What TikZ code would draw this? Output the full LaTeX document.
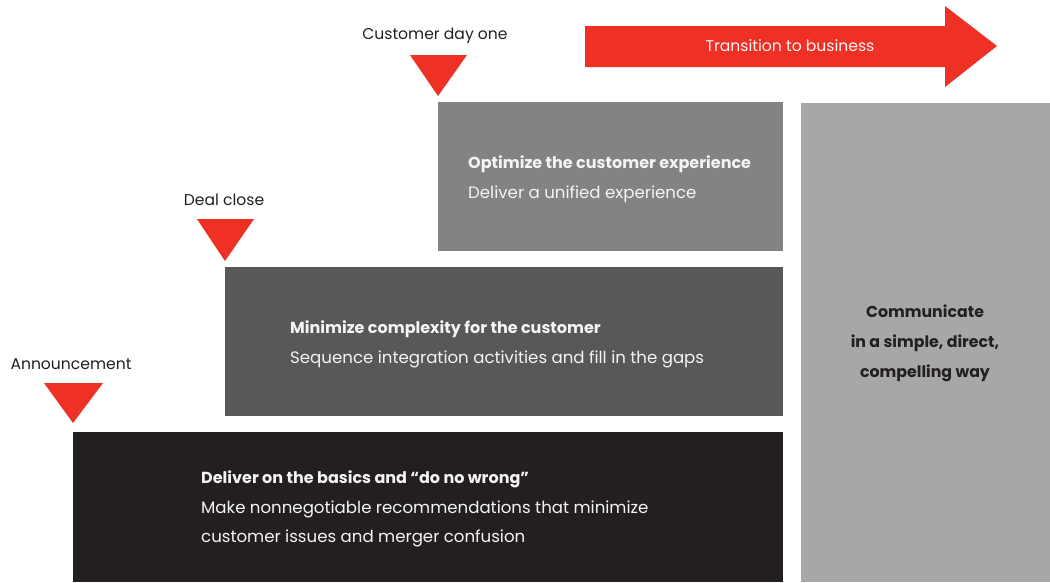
\documentclass[tikz,border=0pt]{standalone}
\usepackage{fontspec}
\setmainfont{Poppins}
\definecolor{tred}{HTML}{EE3124}
\definecolor{boxA}{HTML}{231F20}
\definecolor{boxB}{HTML}{58585A}
\definecolor{boxC}{HTML}{838386}
\definecolor{boxD}{HTML}{A7A7AA}
\definecolor{ltext}{HTML}{F4F4F4}
\definecolor{dtext}{HTML}{231F20}
\begin{document}
\begin{tikzpicture}[x=1pt,y=-1pt,
  lbl/.style={inner sep=0pt, font=\fontsize{15.6}{18}\selectfont, text=dtext},
  head/.style={inner sep=0pt, anchor=base west, font=\fontsize{16}{18}\selectfont\bfseries, text=ltext},
  body/.style={inner sep=0pt, anchor=base west, font=\fontsize{16.6}{18}\selectfont, text=ltext},
  marker/.style={fill=tred}]
\useasboundingbox (0,0) rectangle (1050,582);
% boxes
\fill[boxA] (73,432) rectangle (783,582);
\fill[boxB] (225,267) rectangle (783,416);
\fill[boxC] (438,102) rectangle (783,251);
\fill[boxD] (801,103) rectangle (1050,582);
% arrow
\fill[tred] (585,26) -- (945,26) -- (945,6) -- (997,46) -- (945,87) -- (945,67) -- (585,67) -- cycle;
\node[inner sep=0pt, font=\fontsize{15.6}{18}\selectfont, text=ltext] (trans) at (790,46) {Transition to business};
% markers
\node[lbl] (ann) at (71,364) {Announcement};
\fill[marker] (44,383) -- (103,383) -- (73,423) -- cycle;
\node[lbl] (deal) at (224,200) {Deal close};
\fill[marker] (197,219) -- (254,219) -- (225,261) -- cycle;
\node[lbl] (day) at (435,36) {Customer day one};
\fill[marker] (410,55) -- (467,55) -- (438,96) -- cycle;
% texts
\node[head] (h3) at (468,168) {Optimize the customer experience};
\node[body] (b3) at (468,198) {Deliver a unified experience};
\node[head] (h2) at (290,333) {Minimize complexity for the customer};
\node[body] (b2) at (290,363) {Sequence integration activities and fill in the gaps};
\node[head] (h1) at (201,483) {Deliver on the basics and “do no wrong”};
\node[body] (b1a) at (201,513) {Make nonnegotiable recommendations that minimize};
\node[body] (b1b) at (201,542) {customer issues and merger confusion};
\node[inner sep=0pt, align=center, text=dtext, font=\fontsize{15.8}{30}\selectfont\bfseries] (comm) at (925,343) {Communicate\\in a simple, direct,\\compelling way};
\end{tikzpicture}
\end{document}
